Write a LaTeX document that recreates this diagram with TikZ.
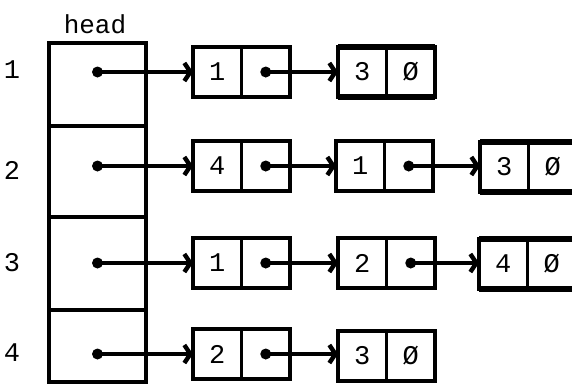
\documentclass[tikz,border=0pt]{standalone}
\usepackage{fontspec}
\setmonofont{Liberation Mono}
\usetikzlibrary{arrows.meta}
\begin{document}
\begin{tikzpicture}[x=1pt,y=-1pt,
  cell/.style={draw, line width=3.4pt, outer sep=0pt, minimum width=48.5pt, minimum height=50pt, inner sep=0pt, font=\ttfamily\fontsize{27}{27}\selectfont},
  hbox/.style={draw, line width=4pt, outer sep=0pt, minimum width=97pt, inner sep=0pt},
  lbl/.style={font=\ttfamily\fontsize{27}{27}\selectfont},
  ptr/.style={line width=3.4pt, -{Straight Barb[length=6pt,width=18pt,line width=4.4pt]}},
  thick edge/.style={line width=6.5pt},
  dotr/.style={fill=black}]
\useasboundingbox (0,0) rectangle (572,383);
\clip (0,0) rectangle (572,383);
% head column
\node[hbox, anchor=north west, minimum height=83pt] (h1) at (49,43) {};
\node[hbox, anchor=north, minimum height=91pt] (h2) at (h1.south) {};
\node[hbox, anchor=north, minimum height=93pt] (h3) at (h2.south) {};
\node[hbox, anchor=north, minimum height=72pt] (h4) at (h3.south) {};
\node[font=\ttfamily\fontsize{26}{26}\selectfont] (head) at (95,24) {head};
% row labels
\node[lbl] (r1) at (12,70) {1};
\node[lbl] (r2) at (12,170) {2};
\node[lbl] (r3) at (12,263) {3};
\node[lbl] (r4) at (12,353) {4};
% row 1
\node[cell, anchor=north west] (a1v) at (193,47) {1};
\node[cell, anchor=west] (a1p) at (a1v.east) {};
\node[cell, anchor=north west] (a2v) at (338,47) {3};
\node[cell, anchor=west] (a2p) at (a2v.east) {Ø};
% row 2
\node[cell, anchor=north west] (b1v) at (193,141) {4};
\node[cell, anchor=west] (b1p) at (b1v.east) {};
\node[cell, anchor=north west] (b2v) at (336,141) {1};
\node[cell, anchor=west] (b2p) at (b2v.east) {};
\node[cell, anchor=north west] (b3v) at (480,142) {3};
\node[cell, anchor=west] (b3p) at (b3v.east) {Ø};
% row 3
\node[cell, anchor=north west] (c1v) at (193,238) {1};
\node[cell, anchor=west] (c1p) at (c1v.east) {};
\node[cell, anchor=north west] (c2v) at (338,238) {2};
\node[cell, anchor=west] (c2p) at (c2v.east) {};
\node[cell, anchor=north west] (c3v) at (479,239) {4};
\node[cell, anchor=west] (c3p) at (c3v.east) {Ø};
% row 4
\node[cell, anchor=north west] (d1v) at (193,329) {2};
\node[cell, anchor=west] (d1p) at (d1v.east) {};
\node[cell, anchor=north west] (d2v) at (338,331) {3};
\node[cell, anchor=west] (d2p) at (d2v.east) {Ø};
% thick edges on last nodes
\draw[thick edge] (a2v.north west) -- (a2p.north east);
\draw[thick edge] (a2v.south west) -- (a2p.south east);
\draw[thick edge] (b3v.north west) -- (b3p.north east);
\draw[thick edge] (b3v.south west) -- (b3p.south east);
\draw[thick edge] (c3v.north west) -- (c3p.north east);
\draw[thick edge] (c3v.south west) -- (c3p.south east);
% pointers from head
\foreach \h/\n in {h1/a1v, h2/b1v, h3/c1v, h4/d1v}{
  \fill[dotr] (\h.center |- \n.west) circle (5.5pt);
  \draw[ptr] (\h.center |- \n.west) -- (\n.west);
}
% pointers between nodes
\foreach \p/\n in {a1p/a2v, b1p/b2v, b2p/b3v, c1p/c2v, c2p/c3v, d1p/d2v}{
  \fill[dotr] (\p.center) circle (5.5pt);
  \draw[ptr] (\p.center) -- (\p.center -| \n.west);
}
\end{tikzpicture}
\end{document}
